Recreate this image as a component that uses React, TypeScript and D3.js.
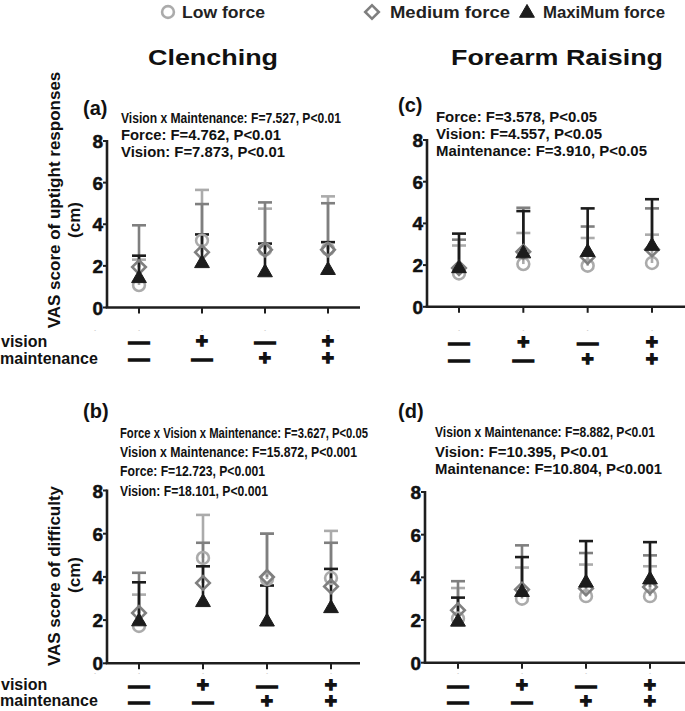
import React from "react";
import * as d3 from "d3";

// ---------- data ----------
const CONDITIONS = ["c1", "c2", "c3", "c4"];
const VISION_SIGNS = ["—", "+", "—", "+"];
const MAINTENANCE_SIGNS = ["—", "—", "+", "+"];
const Y_TICKS = [0, 2, 4, 6, 8];
const FORCE_NAMES = ["Low force", "Medium force", "MaxiMum force"];
const TASK_TITLES = ["Clenching", "Forearm Raising"];
const Y_TITLES_TOP = ["VAS score of uptight responses", "(cm)"];
const Y_TITLES_BOTTOM = ["VAS score of difficulty", "(cm)"];

// (a) Clenching – uptight responses: mean and top of error bar
const aLowMean = [1.08, 3.22, 2.78, 2.8];
const aLowUpper = [2.3, 5.65, 4.75, 5.34];
const aMedMean = [1.94, 2.65, 2.78, 2.78];
const aMedUpper = [3.95, 4.97, 5.05, 5.01];
const aMaxMean = [1.45, 2.17, 1.73, 1.84];
const aMaxUpper = [2.49, 3.51, 3.07, 3.14];
const aStats = [
  "Vision x Maintenance: F=7.527, P<0.01",
  "Force: F=4.762, P<0.01",
  "Vision: F=7.873, P<0.01",
];

// (b) Clenching – difficulty
const bLowMean = [1.73, 4.88, 3.9, 3.95];
const bLowUpper = [3.18, 6.87, 6.0, 6.13];
const bMedMean = [2.33, 3.72, 4.0, 3.56];
const bMedUpper = [4.19, 5.58, 6.0, 5.58];
const bMaxMean = [1.98, 2.87, 1.97, 2.59];
const bMaxUpper = [3.75, 4.49, 3.6, 4.37];
const bStats = [
  "Force x Vision x Maintenance: F=3.627, P<0.05",
  "Vision x Maintenance: F=15.872, P<0.001",
  "Force: F=12.723, P<0.001",
  "Vision: F=18.101, P<0.001",
];

// (c) Forearm raising – uptight responses
const cLowMean = [1.6, 2.05, 1.97, 2.1];
const cLowUpper = [2.94, 3.54, 3.3, 3.46];
const cMedMean = [1.86, 2.64, 2.39, 2.75];
const cMedUpper = [3.22, 4.75, 3.85, 4.72];
const cMaxMean = [1.89, 2.6, 2.67, 2.96];
const cMaxUpper = [3.51, 4.59, 4.72, 5.16];
const cStats = [
  "Force: F=3.578, P<0.05",
  "Vision: F=4.557, P<0.05",
  "Maintenance: F=3.910, P<0.05",
];

// (d) Forearm raising – difficulty
const dLowMean = [2.07, 3.0, 3.12, 3.12];
const dLowUpper = [3.5, 4.46, 4.6, 4.52];
const dMedMean = [2.46, 3.43, 3.48, 3.55];
const dMedUpper = [3.82, 5.5, 5.14, 5.03];
const dMaxMean = [1.96, 3.35, 3.79, 3.94];
const dMaxUpper = [3.05, 4.95, 5.7, 5.65];
const dStats = [
  "Vision x Maintenance: F=8.882, P<0.01",
  "Vision: F=10.395, P<0.01",
  "Maintenance: F=10.804, P<0.001",
];

// ---------- styles ----------
const FONT = "'Liberation Sans', Arial, sans-serif";
const COLORS = ["#ababab", "#7f7f7f", "#1c1c1c"];
const AXIS = "#1e1e1e";

const circlePath = d3.symbol().type(d3.symbolCircle).size(110)()!;
const diamondPath = d3.symbol().type(d3.symbolSquare).size(92)()!;
const trianglePath = d3.symbol().type(d3.symbolTriangle).size(95)()!;

function Marker({ kind, x, y }: { kind: number; x: number; y: number }) {
  if (kind === 0)
    return <path d={circlePath} transform={`translate(${x},${y})`} fill="none" stroke={COLORS[0]} strokeWidth={2.6} />;
  if (kind === 1)
    return <path d={diamondPath} transform={`translate(${x},${y}) rotate(45)`} fill="none" stroke={COLORS[1]} strokeWidth={2.6} />;
  return <path d={trianglePath} transform={`translate(${x},${y + 1})`} fill={COLORS[2]} stroke={COLORS[2]} strokeWidth={1} />;
}

type Panel = {
  label: string;
  labelX: number;
  labelY: number;
  axisX: number;
  axisEnd: number;
  y0: number;
  y8: number;
  cat0: number;
  cat3: number;
  means: number[][];
  uppers: number[][];
  stats: string[];
  statX: number;
  statYs: number[];
  statWidths: number[];
  signY: [number, number];
  minusY: number;
  extraMinus: boolean;
};

const PANELS: Panel[] = [
  {
    label: "(a)", labelX: 83, labelY: 115, axisX: 107, axisEnd: 360, y0: 307.5, y8: 141,
    cat0: 139, cat3: 328,
    means: [aLowMean, aMedMean, aMaxMean], uppers: [aLowUpper, aMedUpper, aMaxUpper],
    stats: aStats, statX: 121, statYs: [118, 135, 152], statWidths: [220, 160, 164],
    signY: [341, 358], minusY: 330, extraMinus: true,
  },
  {
    label: "(b)", labelX: 83, labelY: 418, axisX: 107, axisEnd: 360, y0: 663.3, y8: 490.5,
    cat0: 139, cat3: 331,
    means: [bLowMean, bMedMean, bMaxMean], uppers: [bLowUpper, bMedUpper, bMaxUpper],
    stats: bStats, statX: 120, statYs: [433, 452, 471, 491], statWidths: [248, 237, 145, 148],
    signY: [685, 701], minusY: 673, extraMinus: true,
  },
  {
    label: "(c)", labelX: 398, labelY: 112, axisX: 427, axisEnd: 685, y0: 306.8, y8: 140,
    cat0: 459, cat3: 652,
    means: [cLowMean, cMedMean, cMaxMean], uppers: [cLowUpper, cMedUpper, cMaxUpper],
    stats: cStats, statX: 436, statYs: [117, 134, 151], statWidths: [161, 166, 211],
    signY: [342, 359], minusY: 330, extraMinus: false,
  },
  {
    label: "(d)", labelX: 398, labelY: 418, axisX: 425, axisEnd: 685, y0: 662.7, y8: 492,
    cat0: 458, cat3: 650,
    means: [dLowMean, dMedMean, dMaxMean], uppers: [dLowUpper, dMedUpper, dMaxUpper],
    stats: dStats, statX: 435, statYs: [432, 452, 469], statWidths: [220, 173, 227],
    signY: [685, 701], minusY: 673, extraMinus: false,
  },
];

function PanelView({ p }: { p: Panel }) {
  const y = d3.scaleLinear().domain([0, 8]).range([p.y0, p.y8]);
  const x = d3.scalePoint<string>().domain(CONDITIONS).range([p.cat0, p.cat3]);
  return (
    <g>
      <text x={p.labelX} y={p.labelY} fontSize={20} fontWeight="bold" fill="#111">{p.label}</text>
      {p.stats.map((s, i) => (
        <text key={i} x={p.statX} y={p.statYs[i] + 5} fontSize={14} fontWeight="bold" fill="#111"
          textLength={p.statWidths[i]} lengthAdjust="spacingAndGlyphs">{s}</text>
      ))}
      {/* y axis */}
      <line x1={p.axisX} x2={p.axisX} y1={y(8) - 1} y2={y(0)} stroke={AXIS} strokeWidth={2.6} />
      {Y_TICKS.map((t) => (
        <g key={t}>
          <line x1={p.axisX - 4} x2={p.axisX} y1={y(t)} y2={y(t)} stroke={AXIS} strokeWidth={2} />
          <text x={p.axisX - 4} y={y(t) + 7} fontSize={19} fontWeight="bold" textAnchor="end" fill="#111"
            stroke="#111" strokeWidth={0.5}>{t}</text>
        </g>
      ))}
      {/* x axis */}
      <line x1={p.axisX - 1.3} x2={p.axisEnd} y1={y(0)} y2={y(0)} stroke={AXIS} strokeWidth={2.6} />
      {CONDITIONS.map((c, i) => (
        <g key={c}>
          <line x1={x(c)!} x2={x(c)!} y1={y(0)} y2={y(0) + 6} stroke={AXIS} strokeWidth={2} />
          <text x={x(c)!} y={p.minusY + 2} fontSize={5} textAnchor="middle" fill="#999">-</text>
          <text x={x(c)!} y={p.signY[0] + 7} fontSize={21} fontWeight="bold" textAnchor="middle" fill="#111"
            stroke="#111" strokeWidth={1.3}>{VISION_SIGNS[i]}</text>
          <text x={x(c)!} y={p.signY[1] + 7} fontSize={21} fontWeight="bold" textAnchor="middle" fill="#111"
            stroke="#111" strokeWidth={1.3}>{MAINTENANCE_SIGNS[i]}</text>
        </g>
      ))}
      {p.extraMinus && <text x={95} y={p.minusY + 2} fontSize={5} textAnchor="middle" fill="#999">-</text>}
      {/* error bars */}
      {p.means.map((series, k) =>
        series.map((m, i) => {
          const cx = x(CONDITIONS[i])!;
          const top = y(p.uppers[k][i]);
          return (
            <g key={`e${k}-${i}`} stroke={COLORS[k]} strokeWidth={2.6}>
              <line x1={cx} x2={cx} y1={y(m)} y2={top} />
              <line x1={cx - 7} x2={cx + 7} y1={top} y2={top} />
            </g>
          );
        })
      )}
      {/* markers */}
      {p.means.map((series, k) =>
        series.map((m, i) => <Marker key={`m${k}-${i}`} kind={k} x={x(CONDITIONS[i])!} y={y(m)} />)
      )}
    </g>
  );
}

export default function App() {
  const legendX = [168, 372, 527];
  const legendTextX = [182, 390, 543];
  const legendW = [83, 120, 122];
  return (
    <svg width={685} height={711} style={{ position: "absolute", left: 0, top: 0, background: "#fff" }}
      fontFamily={FONT}>
      <rect width={685} height={711} fill="#fff" />
      {/* legend */}
      {FORCE_NAMES.map((n, i) => (
        <g key={n}>
          <Marker kind={i} x={legendX[i]} y={12} />
          <text x={legendTextX[i]} y={18} fontSize={17} fontWeight="bold" fill="#222"
            textLength={legendW[i]} lengthAdjust="spacingAndGlyphs">{n}</text>
        </g>
      ))}
      <text x={213} y={65} fontSize={22} fontWeight="bold" textAnchor="middle" fill="#111"
        textLength={130} lengthAdjust="spacingAndGlyphs">{TASK_TITLES[0]}</text>
      <text x={557} y={65} fontSize={22} fontWeight="bold" textAnchor="middle" fill="#111"
        textLength={212} lengthAdjust="spacingAndGlyphs">{TASK_TITLES[1]}</text>
      {/* y titles */}
      <text transform="translate(60,200) rotate(-90)" fontSize={17} fontWeight="bold" textAnchor="middle" fill="#111">{Y_TITLES_TOP[0]}</text>
      <text transform="translate(80,220) rotate(-90)" fontSize={17} fontWeight="bold" textAnchor="middle" fill="#111">{Y_TITLES_TOP[1]}</text>
      <text transform="translate(60,576) rotate(-90)" fontSize={17} fontWeight="bold" textAnchor="middle" fill="#111">{Y_TITLES_BOTTOM[0]}</text>
      <text transform="translate(80,575) rotate(-90)" fontSize={17} fontWeight="bold" textAnchor="middle" fill="#111">{Y_TITLES_BOTTOM[1]}</text>
      {/* row labels */}
      <text x={1} y={347} fontSize={16} fontWeight="bold" fill="#111">vision</text>
      <text x={0} y={364} fontSize={16} fontWeight="bold" fill="#111">maintenance</text>
      <text x={1} y={690} fontSize={16} fontWeight="bold" fill="#111">vision</text>
      <text x={0} y={706} fontSize={16} fontWeight="bold" fill="#111">maintenance</text>
      {PANELS.map((p) => <PanelView key={p.label} p={p} />)}
    </svg>
  );
}
